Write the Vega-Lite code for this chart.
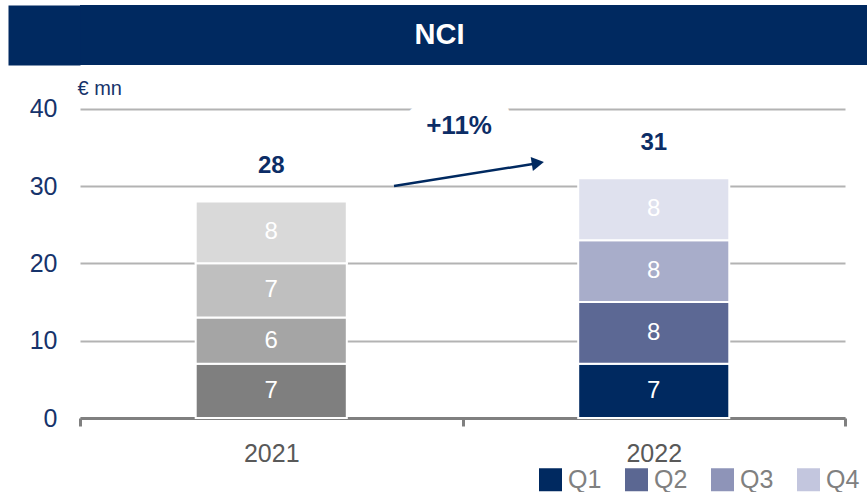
{
  "$schema": "https://vega.github.io/schema/vega-lite/v6.json",
  "padding": {"left": -22, "top": 5, "right": 0, "bottom": 0},
  "spacing": 5,
  "columns": 1,
  "align": "none",
  "background": "white",
  "config": {"font": "Liberation Sans", "view": {"stroke": null}},
  "resolve": {"scale": {"color": "independent"}, "legend": {"color": "independent"}},
  "concat": [
    {
      "width": 787,
      "height": 60,
      "view": {"fill": "#002960", "stroke": null},
      "data": {"values": [{"label": "NCI"}]},
      "mark": {"type": "text", "fill": "white", "fontSize": 29, "fontWeight": "bold", "baseline": "middle", "align": "center", "dx": -34},
      "encoding": {
        "y": {
          "field": "label", "type": "nominal",
          "axis": {"title": null, "labels": false, "ticks": true, "tickSize": 72, "tickWidth": 60, "tickColor": "#002960", "tickCap": "butt", "tickOffset": 0, "grid": false, "domain": false, "minExtent": 72, "maxExtent": 72}
        },
        "text": {"field": "label"}
      }
    },
    {
      "width": 765,
      "height": 348,
      "layer": [
        {
          "data": {"values": [
            {"year": "2021", "quarter": "Q1", "value": 7},
            {"year": "2021", "quarter": "Q2", "value": 6},
            {"year": "2021", "quarter": "Q3", "value": 7},
            {"year": "2021", "quarter": "Q4", "value": 8},
            {"year": "2022", "quarter": "Q1", "value": 7},
            {"year": "2022", "quarter": "Q2", "value": 8},
            {"year": "2022", "quarter": "Q3", "value": 8},
            {"year": "2022", "quarter": "Q4", "value": 8}
          ]},
          "transform": [
            {"stack": "value", "groupby": ["year"], "sort": [{"field": "quarter", "order": "ascending"}], "as": ["v0", "v1"]},
            {"calculate": "(datum.v0 + datum.v1) / 2", "as": "mid"}
          ],
          "layer": [
            {
              "transform": [{"filter": "datum.year == '2021'"}],
              "mark": {"type": "bar", "width": {"band": 0.395}, "stroke": "white", "strokeWidth": 2},
              "encoding": {
                "x": {
                  "field": "year", "type": "nominal",
                  "scale": {"domain": ["2021", "2022"], "paddingInner": 0, "paddingOuter": 0},
                  "axis": {
                    "title": null, "labelAngle": 0, "labelFontSize": 25, "labelColor": "#595959", "labelFont": "Liberation Sans",
                    "labelPadding": 15, "tickSize": 8, "tickWidth": 3, "tickColor": "#808080",
                    "domainColor": "#808080", "domainWidth": 3, "tickBand": "extent", "grid": false
                  }
                },
                "y": {
                  "field": "v1", "type": "quantitative",
                  "scale": {"domain": [0, 45], "nice": false},
                  "axis": {
                    "title": "€ mn", "values": [0, 10, 20, 30, 40], "grid": true, "gridColor": "#b3b3b3", "gridWidth": 2,
                    "domain": false, "ticks": false, "tickSize": 0, "labelPadding": 23, "labelFontSize": 25,
                    "labelColor": "#16336b", "labelFont": "Liberation Sans", "minExtent": 72, "maxExtent": 72,
                    "titleAngle": 0, "titleAlign": "left", "titleBaseline": "alphabetic", "titleX": -3, "titleY": 24,
                    "titleFontSize": 20, "titleFontWeight": "normal", "titleColor": "#16336b", "titleFont": "Liberation Sans"
                  }
                },
                "y2": {"field": "v0"},
                "fill": {
                  "field": "quarter", "type": "nominal",
                  "scale": {"domain": ["Q1", "Q2", "Q3", "Q4"], "range": ["#7f7f7f", "#a5a5a5", "#bfbfbf", "#d9d9d9"]},
                  "legend": null
                }
              }
            },
            {
              "mark": {"type": "square", "opacity": 0, "size": 1},
              "encoding": {
                "x": {"field": "year", "type": "nominal", "scale": {"domain": ["2021", "2022"], "paddingInner": 0, "paddingOuter": 0}},
                "y": {"field": "value", "type": "quantitative", "scale": {"domain": [0, 45], "nice": false}},
                "color": {
                  "field": "quarter", "type": "nominal",
                  "scale": {"domain": ["Q1", "Q2", "Q3", "Q4"], "range": ["#002960", "#5b6792", "#8e94b8", "#c3c6de"]},
                  "legend": {
                    "orient": "none", "legendX": 458, "legendY": 397, "direction": "horizontal", "title": null,
                    "symbolType": "square", "symbolSize": 529, "symbolOpacity": 1, "symbolStrokeWidth": 0,
                    "labelFontSize": 25, "labelColor": "#808080", "labelFont": "Liberation Sans", "labelOffset": 5,
                    "columnPadding": 22, "padding": 0
                  }
                }
              }
            },
            {
              "transform": [{"filter": "datum.year == '2022'"}],
              "mark": {"type": "bar", "width": {"band": 0.395}, "stroke": "white", "strokeWidth": 2},
              "encoding": {
                "x": {"field": "year", "type": "nominal", "scale": {"domain": ["2021", "2022"], "paddingInner": 0, "paddingOuter": 0}},
                "y": {"field": "v1", "type": "quantitative", "scale": {"domain": [0, 45], "nice": false}},
                "y2": {"field": "v0"},
                "fill": {
                  "field": "quarter", "type": "nominal",
                  "scale": {"domain": ["Q1", "Q2", "Q3", "Q4"], "range": ["#002960", "#5c6894", "#a8adca", "#dfe1ee"]},
                  "legend": null
                }
              }
            },
            {
              "mark": {"type": "text", "fill": "white", "fontSize": 24, "baseline": "middle", "align": "center"},
              "encoding": {
                "x": {"field": "year", "type": "nominal", "scale": {"domain": ["2021", "2022"], "paddingInner": 0, "paddingOuter": 0}},
                "y": {"field": "mid", "type": "quantitative", "scale": {"domain": [0, 45], "nice": false}},
                "text": {"field": "value", "type": "quantitative"}
              }
            },
            {
              "transform": [{"aggregate": [{"op": "sum", "field": "value", "as": "total"}], "groupby": ["year"]}],
              "layer": [
                {
                  "mark": {"type": "text", "fill": "white", "stroke": "white", "strokeWidth": 24, "strokeJoin": "round", "fontSize": 24, "fontWeight": "bold", "baseline": "middle", "align": "center", "dy": -35},
                  "encoding": {
                    "x": {"field": "year", "type": "nominal", "scale": {"domain": ["2021", "2022"], "paddingInner": 0, "paddingOuter": 0}},
                    "y": {"field": "total", "type": "quantitative", "scale": {"domain": [0, 45], "nice": false}},
                    "text": {"field": "total", "type": "quantitative"}
                  }
                },
                {
                  "mark": {"type": "text", "fill": "#0c2d66", "fontSize": 24, "fontWeight": "bold", "baseline": "middle", "align": "center", "dy": -35},
                  "encoding": {
                    "x": {"field": "year", "type": "nominal", "scale": {"domain": ["2021", "2022"], "paddingInner": 0, "paddingOuter": 0}},
                    "y": {"field": "total", "type": "quantitative", "scale": {"domain": [0, 45], "nice": false}},
                    "text": {"field": "total", "type": "quantitative"}
                  }
                }
              ]
            }
          ],
          "resolve": {"scale": {"fill": "independent"}}
        },
        {
          "layer": [
            {
              "data": {"values": [{"label": "+11%", "px": 0.991, "py": 37.76}]},
              "layer": [
                {
                  "mark": {"type": "text", "fill": "white", "stroke": "white", "strokeWidth": 44, "strokeJoin": "round", "fontSize": 26, "fontWeight": "bold", "baseline": "middle", "align": "center"},
                  "encoding": {
                    "x": {"field": "px", "type": "quantitative", "scale": {"domain": [0, 2], "nice": false, "zero": false}, "axis": null},
                    "y": {"field": "py", "type": "quantitative", "scale": {"domain": [0, 45], "nice": false}},
                    "text": {"field": "label"}
                  }
                },
                {
                  "mark": {"type": "text", "fill": "#0c2d66", "fontSize": 26, "fontWeight": "bold", "baseline": "middle", "align": "center"},
                  "encoding": {
                    "x": {"field": "px", "type": "quantitative", "scale": {"domain": [0, 2], "nice": false, "zero": false}, "axis": null},
                    "y": {"field": "py", "type": "quantitative", "scale": {"domain": [0, 45], "nice": false}},
                    "text": {"field": "label"}
                  }
                }
              ]
            },
            {
              "data": {"values": [{"x0": 0.821, "y0": 30.0, "x1": 1.184, "y1": 32.85}]},
              "mark": {"type": "rule", "stroke": "#002960", "strokeWidth": 2.5},
              "encoding": {
                "x": {"field": "x0", "type": "quantitative", "scale": {"domain": [0, 2], "nice": false, "zero": false}, "axis": null},
                "x2": {"field": "x1"},
                "y": {"field": "y0", "type": "quantitative", "scale": {"domain": [0, 45], "nice": false}},
                "y2": {"field": "y1"}
              }
            },
            {
              "data": {"values": [{"hx": 1.197, "hy": 32.98}]},
              "mark": {"type": "point", "shape": "triangle-right", "filled": true, "fill": "#002960", "opacity": 1, "size": 200, "angle": 351},
              "encoding": {
                "x": {"field": "hx", "type": "quantitative", "scale": {"domain": [0, 2], "nice": false, "zero": false}, "axis": null},
                "y": {"field": "hy", "type": "quantitative", "scale": {"domain": [0, 45], "nice": false}}
              }
            }
          ]
        }
      ],
      "resolve": {"scale": {"x": "independent"}}
    }
  ]
}
